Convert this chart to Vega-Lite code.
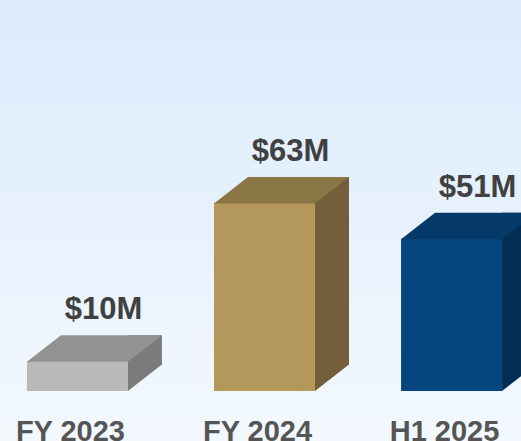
{
  "$schema": "https://vega.github.io/schema/vega-lite/v6.json",
  "width": 529,
  "height": 441,
  "padding": 0,
  "autosize": {"type": "none"},
  "background": "#f2f8fe",
  "config": {
    "view": {
      "stroke": null,
      "fill": {"gradient": "linear", "x1": 0, "y1": 0, "x2": 0, "y2": 1,
        "stops": [{"offset": 0, "color": "#dbebfc"}, {"offset": 1, "color": "#f3f8fe"}]}
    }
  },
  "data": {
    "values": [
      {"period": "FY 2023", "value": 10, "label": "$10M"},
      {"period": "FY 2024", "value": 63, "label": "$63M"},
      {"period": "H1 2025", "value": 51, "label": "$51M"}
    ]
  },
  "encoding": {
    "x": {
      "field": "period", "type": "nominal", "sort": null,
      "scale": {"paddingInner": 0.46, "paddingOuter": 0.144},
      "axis": {
        "title": null, "labelAngle": 0, "domain": false, "ticks": false, "tickSize": 0,
        "grid": false, "labelPadding": -1, "labelBaseline": "alphabetic",
        "labelFont": "Liberation Sans", "labelFontWeight": "bold", "labelFontSize": 29,
        "labelColor": "#555555", "labelOffset": -7
      }
    },
    "y": {
      "field": "value", "type": "quantitative",
      "scale": {"domain": [-16.76, 131.03], "nice": false, "zero": false},
      "axis": null
    }
  },
  "layer": [
    {
      "mark": {"type": "bar", "width": 34, "xOffset": 67.5, "yOffset": -26, "y2Offset": -26},
      "encoding": {
        "y2": {"datum": 0},
        "color": {"field": "period", "type": "nominal", "sort": null, "legend": null,
          "scale": {"domain": ["FY 2023", "FY 2024", "H1 2025"], "range": ["#7b7b7b", "#735f39", "#042d53"]}}
      }
    },
    {
      "mark": {"type": "point", "shape": "M50.5,0 L50.5,-26.5 L84.5,-26.5 Z", "size": 4, "filled": true, "opacity": 1, "strokeWidth": 0},
      "encoding": {
        "y": {"datum": 0},
        "color": {"field": "period", "type": "nominal", "sort": null, "legend": null,
          "scale": {"domain": ["FY 2023", "FY 2024", "H1 2025"], "range": ["#7b7b7b", "#735f39", "#042d53"]}}
      }
    },
    {
      "mark": {"type": "bar"},
      "encoding": {
        "y2": {"datum": 0},
        "color": {"field": "period", "type": "nominal", "sort": null, "legend": null,
          "scale": {"domain": ["FY 2023", "FY 2024", "H1 2025"], "range": ["#b9b9b9", "#b3975b", "#06467e"]}}
      }
    },
    {
      "mark": {"type": "point", "shape": "M-50.5,0.5 L50.5,0.5 L84.5,-26 L-16.5,-26 Z", "size": 4, "filled": true, "opacity": 1, "strokeWidth": 0},
      "encoding": {
        "color": {"field": "period", "type": "nominal", "sort": null, "legend": null,
          "scale": {"domain": ["FY 2023", "FY 2024", "H1 2025"], "range": ["#929292", "#8a7545", "#053a68"]}}
      }
    },
    {
      "mark": {"type": "text", "dx": 26, "dy": -42, "baseline": "alphabetic", "align": "center",
        "font": "Liberation Sans", "fontWeight": "bold", "fontSize": 31, "fill": "#404040"},
      "encoding": {"text": {"field": "label"}}
    }
  ],
  "resolve": {"scale": {"color": "independent"}}
}
